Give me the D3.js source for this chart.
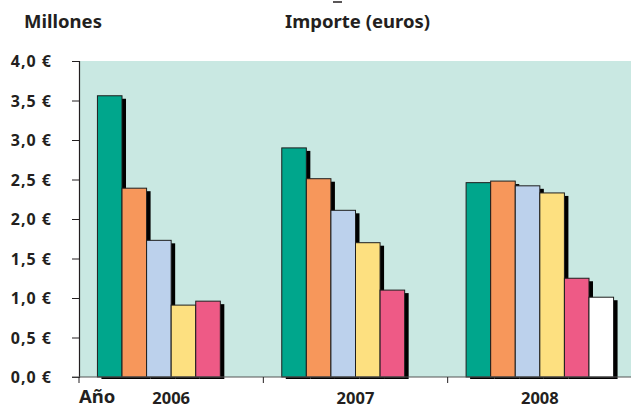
<!DOCTYPE html>
<html>
<head>
<meta charset="utf-8">
<script src="https://cdn.jsdelivr.net/npm/d3@7"></script>
<style>
  html, body { margin: 0; padding: 0; background: #fff; }
  svg { display: block; }
  text { font-family: "Noto Sans", "DejaVu Sans", sans-serif; font-weight: 700; fill: #231f20; }
</style>
</head>
<body>
<svg id="chart" width="631" height="409"></svg>
<script>
// Years on the category axis
const years = ["2006", "2007", "2008"];
// Amounts in millions of euros, one array per series (null = no bar)
const serie1 = [3.56, 2.90, 2.46];
const serie2 = [2.39, 2.51, 2.48];
const serie3 = [1.73, 2.11, 2.42];
const serie4 = [0.91, 1.70, 2.33];
const serie5 = [0.96, 1.10, 1.25];
const serie6 = [null, null, 1.01];
const seriesValues = [serie1, serie2, serie3, serie4, serie5, serie6];
const seriesColors = ["#00a68c", "#f7975b", "#bcd1ec", "#fde080", "#ee5a86", "#ffffff"];
// Value axis ticks
const yTicks = [0, 0.5, 1.0, 1.5, 2.0, 2.5, 3.0, 3.5, 4.0];

const svg = d3.select("#chart");
const plot = { left: 79, right: 632, top: 61, bottom: 377 };

const x = d3.scaleBand().domain(years).range([plot.left, plot.right]).paddingInner(0).paddingOuter(0);
const y = d3.scaleLinear().domain([0, 4]).range([plot.bottom, plot.top]);
const gapRatio = 1.5; // cluster gap as a multiple of the bar width
const barW = x.bandwidth() / (seriesValues.length + gapRatio);
const xs = d3.scaleBand().domain(d3.range(seriesValues.length))
  .range([barW * gapRatio / 2, x.bandwidth() - barW * gapRatio / 2]).padding(0);

const fmt = v => d3.format(".1f")(v).replace(".", ",") + " €";
const font = "'Noto Sans', 'DejaVu Sans', sans-serif";

// Plot background
svg.append("rect")
  .attr("x", plot.left).attr("y", plot.top)
  .attr("width", plot.right - plot.left).attr("height", plot.bottom - plot.top)
  .attr("fill", "#c9e8e2");

// Bars: shadows first, then the filled bars on top
const groups = svg.append("g").selectAll("g").data(years).join("g")
  .attr("transform", d => `translate(${x(d)},0)`);

const barData = yi => seriesValues.map((s, si) => ({ si, v: s[yi] })).filter(b => b.v != null);

groups.each(function (yr, yi) {
  const g = d3.select(this);
  const bars = barData(yi);
  g.selectAll("rect.shadow").data(bars).join("rect")
    .attr("class", "shadow")
    .attr("x", b => xs(b.si) + 4)
    .attr("y", b => y(b.v) + 3)
    .attr("width", barW)
    .attr("height", b => y(0) - y(b.v) - 1)
    .attr("fill", "#000");
  g.selectAll("rect.bar").data(bars).join("rect")
    .attr("class", "bar")
    .attr("x", b => xs(b.si))
    .attr("y", b => y(b.v))
    .attr("width", barW)
    .attr("height", b => y(0) - y(b.v))
    .attr("fill", b => seriesColors[b.si])
    .attr("stroke", "#1e1e1e")
    .attr("stroke-width", 1);
});

// Value axis
const yAxis = svg.append("g")
  .attr("transform", `translate(${plot.left},0)`)
  .call(d3.axisLeft(y).tickValues(yTicks).tickSize(7).tickPadding(10).tickFormat(fmt));
yAxis.select(".domain").attr("stroke", "#231f20").attr("stroke-width", 1.2);
yAxis.selectAll(".tick line").attr("stroke", "#231f20");
yAxis.selectAll(".tick text")
  .attr("x", -27)
  .attr("dy", "0.36em")
  .style("font-family", font).style("font-weight", 700)
  .style("font-size", "16px").style("letter-spacing", "1px")
  .attr("fill", "#231f20");

// Category axis line and separators
svg.append("line")
  .attr("x1", plot.left - 7).attr("x2", 631)
  .attr("y1", y(0)).attr("y2", y(0))
  .attr("stroke", "#555").attr("stroke-width", 1.2);
svg.append("g").selectAll("line").data(years).join("line")
  .attr("x1", d => x(d)).attr("x2", d => x(d))
  .attr("y1", y(0)).attr("y2", y(0) + 6)
  .attr("stroke", "#231f20");

svg.append("g").selectAll("text").data(years).join("text")
  .attr("x", d => x(d) + x.bandwidth() / 2)
  .attr("y", 404)
  .attr("text-anchor", "middle")
  .style("font-size", "16.5px")
  .text(d => d);

svg.append("text").attr("x", 79).attr("y", 403).style("font-size", "18.5px").text("Año");

// Titles
svg.append("text").attr("x", 24).attr("y", 28).style("font-size", "18.5px").text("Millones");
svg.append("text").attr("x", 285).attr("y", 28).style("font-size", "18.5px").text("Importe (euros)");
svg.append("line").attr("x1", 333).attr("x2", 342).attr("y1", 2).attr("y2", 2)
  .attr("stroke", "#231f20").attr("stroke-width", 1.5);
</script>
</body>
</html>
